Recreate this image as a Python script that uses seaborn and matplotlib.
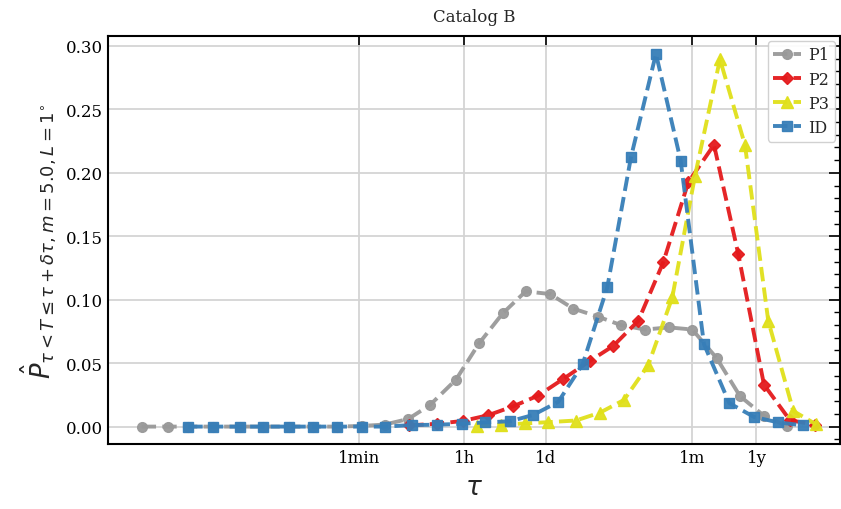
import numpy as np
import pandas as pd
import matplotlib
matplotlib.use("Agg")
import matplotlib.pyplot as plt
import seaborn as sns
from matplotlib.ticker import FixedLocator, NullLocator, MultipleLocator, FormatStrFormatter

# ---- data (log10 of tau in seconds, probability) ----
series_names = ["P1", "P2", "P3", "ID"]

logtau_p1 = [-1.904, -1.464, -1.115, -0.692, -0.241, 0.154, 0.594, 1.000, 1.406, 1.819,
             2.208, 2.607, 2.974, 3.414, 3.803, 4.204, 4.594, 5.005, 5.399, 5.822,
             6.206, 6.612, 7.018, 7.413, 7.825, 8.220, 8.626, 9.010]
prob_p1 = [0.0, 0.0, 0.0, 0.0, 0.0, 0.0, 0.0, 0.0, 0.0, 0.0005,
           0.0016, 0.0060, 0.0170, 0.0370, 0.0655, 0.0892, 0.1066, 0.1045, 0.0930, 0.0866,
           0.0800, 0.0765, 0.0782, 0.0765, 0.0540, 0.0240, 0.0085, 0.0005]

logtau_p2 = [2.624, 3.088, 3.538, 3.961, 4.384, 4.807, 5.230, 5.682, 6.076, 6.499,
             6.922, 7.345, 7.780, 8.191, 8.626, 9.066, 9.489]
prob_p2 = [0.0010, 0.0022, 0.0045, 0.0090, 0.0160, 0.0245, 0.0376, 0.0518, 0.0636, 0.0834,
           0.1295, 0.1926, 0.2221, 0.1360, 0.0330, 0.0050, 0.0015]

logtau_p3 = [3.764, 4.171, 4.582, 4.976, 5.445, 5.851, 6.257, 6.668, 7.074, 7.458,
             7.881, 8.304, 8.698, 9.122, 9.506]
prob_p3 = [0.0005, 0.0015, 0.0025, 0.0035, 0.0048, 0.0110, 0.0210, 0.0485, 0.1018, 0.1975,
           0.2895, 0.2220, 0.0834, 0.0123, 0.0018]

logtau_id = [-1.115, -0.692, -0.241, 0.154, 0.594, 1.000, 1.406, 1.819, 2.213, 2.665,
             3.088, 3.511, 3.905, 4.328, 4.722, 5.145, 5.558, 5.974, 6.375, 6.798,
             7.216, 7.610, 8.039, 8.457, 8.868, 9.281]
prob_id = [0.0, 0.0, 0.0, 0.0, 0.0, 0.0, 0.0, 0.0, 0.0, 0.0012,
           0.0015, 0.0022, 0.0033, 0.0042, 0.0092, 0.0195, 0.0492, 0.1097, 0.2123, 0.2939,
           0.2097, 0.0650, 0.0185, 0.0076, 0.0033, 0.0010]

tick_seconds = [60, 3600, 86400, 2.592e7, 3.1536e8]
tick_labels = ["1min", "1h", "1d", "1m", "1y"]
y_ticks = [0.00, 0.05, 0.10, 0.15, 0.20, 0.25, 0.30]

colors = ["#999999", "#e41a1c", "#e0e01a", "#377eb8"]
markers = ["o", "D", "^", "s"]
msizes = [7.0, 6.5, 8.0, 6.5]

# ---- style ----
sns.set_theme(style="white")
plt.rcParams["font.family"] = ["DejaVu Serif"]
plt.rcParams["mathtext.fontset"] = "dejavusans"

fig = plt.figure(figsize=(8.41, 5.10), dpi=100)
ax = fig.add_axes([0.1284, 0.1275, 0.8704, 0.8000])
ax.set_xscale("log")

all_logs = [logtau_p1, logtau_p2, logtau_p3, logtau_id]
all_probs = [prob_p1, prob_p2, prob_p3, prob_id]
for name, lt, pr, c, m, ms in zip(series_names, all_logs, all_probs, colors, markers, msizes):
    df = pd.DataFrame({"tau": 10 ** np.array(lt), "p": pr})
    sns.lineplot(data=df, x="tau", y="p", ax=ax, color=c, marker=m, markersize=ms,
                 markeredgecolor=c, markeredgewidth=1.0, linestyle="--", linewidth=2.8,
                 label=name, estimator=None, sort=True, alpha=0.95)

ax.set_xlim(10 ** -2.474, 10 ** 9.912)
ax.set_ylim(-0.0137, 0.3079)

ax.xaxis.set_major_locator(FixedLocator(tick_seconds))
ax.set_xticklabels(tick_labels)
ax.xaxis.set_minor_locator(NullLocator())
ax.yaxis.set_major_locator(FixedLocator(y_ticks))
ax.yaxis.set_major_formatter(FormatStrFormatter("%.2f"))
ax.yaxis.set_minor_locator(MultipleLocator(0.01))

ax.tick_params(which="both", direction="in", top=True, right=True, labelsize=12, colors="black")
ax.tick_params(which="major", length=8, width=1.2)
ax.tick_params(which="minor", length=4.5, width=1.0)
for s in ax.spines.values():
    s.set_color("black")
    s.set_linewidth(1.5)

ax.grid(True, which="major", color="#d4d4d4", linewidth=1.3)
ax.set_axisbelow(True)

ax.set_xlabel(r"$\tau$", fontsize=19, labelpad=6)
ax.set_ylabel(r"$\hat{P}_{\tau < T \leq \tau + \delta\tau, m=5.0, L=1^{\circ}}$", fontsize=18.5, labelpad=5)
ax.set_title("Catalog B", fontsize=12, pad=11)

leg = ax.legend(loc="upper right", fontsize=11.5, frameon=True, fancybox=True,
                edgecolor="#cccccc", framealpha=0.9, borderaxespad=0.3,
                handlelength=1.7, handletextpad=0.5, borderpad=0.35, labelspacing=0.45)

fig.savefig("out.png", dpi=100)
